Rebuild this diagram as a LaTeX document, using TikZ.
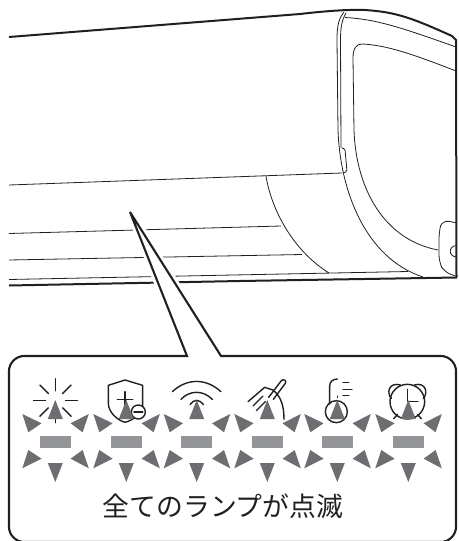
\documentclass[tikz,border=0pt]{standalone}
\usepackage{xcolor}
\usepackage{fontspec}
\newfontfamily\cjk{Noto Sans CJK JP}
\definecolor{myink}{RGB}{35,31,32}
\definecolor{flashdark}{RGB}{109,110,113}
\definecolor{flashgrey}{RGB}{147,149,152}
\tikzset{
  thinline/.style={color=myink, line width=0.8pt},
  heavyline/.style={color=myink, line width=2pt},
  bubble/.style={color=myink, fill=white, line width=2.1pt, line join=miter},
  icon/.style={color=myink, line width=1.4pt, line cap=round, line join=round},
  ray/.style={fill=flashdark, draw=none},
  lampbar/.style={fill=flashgrey, draw=none}
}
\begin{document}
\begin{tikzpicture}[x=1pt, y=-1pt]
    \useasboundingbox (0,0) rectangle (458,541);
    % Outline of the unit
    \draw[heavyline] (9,37) -- (300,14) .. controls (330,10.5) and (350,9.5) .. (365,10)
      .. controls (395,12) and (410,17) .. (452,36) -- (456,40) -- (456.5,277);
    \draw[heavyline] (9,285.5) -- (240,281) -- (457,277.5);
    % Lines of the body
    \draw[thinline] (9,185) -- (342,173);
    \draw[thinline] (9,233.5) -- (281,226);
    \draw[thinline] (9,260) -- (302,254.5);
    \draw[thinline] (9,279.5) -- (408,271.5);
    \draw[thinline] (266,176) .. controls (271,208) and (292,250) .. (329,273);
    % Door and panel
    \draw[thinline] (344,12) .. controls (339,18) and (337,25) .. (337,40)
      -- (338,130) .. controls (340,190) and (365,258) .. (423,277);
    \draw[thinline] (346,13) .. controls (342,20) and (340.5,27) .. (340.5,40) -- (341,148);
    \draw[thinline] (345,17.5) .. controls (375,19) and (400,27) .. (456,47);
    \draw[thinline] (456,71) .. controls (410,53) and (385,45) .. (362,44)
      .. controls (356,44) and (353,49) .. (353,58) -- (354,130)
      .. controls (356,190) and (385,240) .. (438,250);
    \draw[thinline, rounded corners=1.5pt] (342,148) -- (345,149) -- (347,171.5) -- (343,173);
    % Vent at the right
    \draw[thinline, rounded corners=7pt] (457,223) -- (442,220) -- (439,232) -- (439,262)
      -- (444,272) -- (457,276.5);
    \draw[thinline] (457,245.5) .. controls (448,245.5) and (448,257) .. (457,257);
    % Speech bubble
    \draw[color=white, line width=8pt] (130,212) -- (187,356) -- (221,356) -- cycle;
    \draw[bubble] (130,212) -- (221,356) -- (441,356) .. controls (449,356) and (456,363) .. (456,371)
      -- (456,527) .. controls (456,535) and (449,542) .. (441,542) -- (24,542)
      .. controls (16,542) and (9,535) .. (9,527) -- (9,371)
      .. controls (9,363) and (16,356) .. (24,356) -- (187,356) -- cycle;
    % Sun
    \foreach \ang in {0,45,...,315}
      \draw[icon] (55.5,400.7) ++(\ang:10) -- ++(\ang:12);
    % Shield
    \begin{scope}[shift={(0,340)}, scale=1/3]
      \draw[icon] (375,120) -- (428,136) -- (428,205) .. controls (420,225) and (400,240) .. (375,247)
        .. controls (350,240) and (325,215) .. (325,190) -- (325,136) -- cycle;
      \draw[icon] (375,155) -- (375,200) (352,178) -- (398,178);
      \draw[icon, fill=white] (415,216) circle (21);
      \draw[icon, line width=1.7pt] (402,216) -- (428,216);
    \end{scope}
    % Wifi
    \draw[icon] (172.3,391.7) .. controls (187,378) and (206,378) .. (221,391.7);
    \draw[icon] (181,399.3) .. controls (190,390) and (203,390) .. (212.3,399.3);
    \draw[icon] (190,404.5) .. controls (194,399) and (199,399) .. (203.3,404.5);
    \begin{scope}[shift={(228,340)}, scale=1/3]
      % Brush
      \draw[icon] (122,172) -- (160,122) .. controls (165,115) and (178,122) .. (172,130) -- (136,178);
      \draw[icon] (60,185) -- (110,142) -- (135,150) .. controls (160,170) and (168,200) .. (168,238);
      \draw[icon] (75,198) -- (105,168) (85,212) -- (112,185);
      % Thermometer
      \draw[icon] (305,192) -- (305,138) .. controls (305,125) and (315,117) .. (328,117);
      \draw[icon] (325,215) circle (33);
      \draw[icon] (345,127) -- (362,127) (345,148) -- (372,148) (345,167) -- (362,167);
      \draw[icon] (328,168) -- (328,172);
      % Clock
      \draw[icon] (538,185) circle (52);
      \draw[icon] (538,148) -- (538,185) -- (570,185);
      \draw[icon] (490,175) .. controls (475,160) and (482,125) .. (517,135);
      \draw[icon] (586,175) .. controls (601,160) and (594,125) .. (559,135);
      \draw[icon] (497,236) -- (508,224) (580,236) -- (569,224);
    \end{scope}
    % Flashing lamps
    \foreach \cx in {55.3,126.3,196.7,267.3,337.3,408.3} {
      \begin{scope}[shift={(\cx,442)}]
        \fill[lampbar] (-15.5,-6) rectangle (15.5,6);
        \fill[ray] (0,-42) -- (7.5,-23) -- (-7.5,-23) -- cycle;
        \fill[ray] (0,40) -- (7.5,21) -- (-7.5,21) -- cycle;
        \fill[ray] (-33,-28) -- (-13.7,-18.7) -- (-27,-9.7) -- cycle;
        \fill[ray] (33.5,-28) -- (15.3,-18.7) -- (27.3,-9.7) -- cycle;
        \fill[ray] (-33,26.3) -- (-27,8) -- (-13.7,16.7) -- cycle;
        \fill[ray] (33.5,26.3) -- (27.3,8) -- (15.3,16.7) -- cycle;
      \end{scope}
    }
    \node[color=myink, font=\cjk\fontsize{26.8pt}{30pt}\selectfont] (caption) at (223,506) {全てのランプが点滅};
\end{tikzpicture}
\end{document}
